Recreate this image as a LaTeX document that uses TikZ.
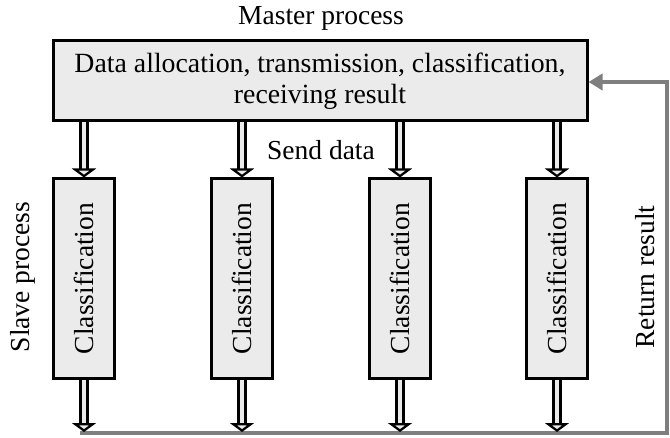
\documentclass[tikz,border=0pt]{standalone}
\usepackage{fontspec}
\setmainfont{Liberation Serif}
\usetikzlibrary{arrows.meta}
\definecolor{boxfill}{HTML}{EBEBEB}
\definecolor{retgray}{HTML}{7F7F7F}
\begin{document}
\begin{tikzpicture}[x=1pt,y=1pt,
  txt/.style={font=\fontsize{27.5}{31}\selectfont, inner sep=0pt},
  masterbox/.style={draw=black, line width=3pt, fill=boxfill, minimum width=534pt, minimum height=80pt, align=center, inner sep=0pt, font=\fontsize{27.8}{31}\selectfont},
  slavebox/.style={draw=black, line width=3pt, fill=boxfill, rotate=90, minimum width=199pt, minimum height=61pt, inner sep=0pt, font=\fontsize{27.5}{31}\selectfont},
  dbl/.style={draw=black, line width=3pt, double=boxfill, double distance=3.5pt, -{Triangle[open, fill=boxfill, line width=2.5pt, length=9pt, width=24pt]}},
  ret/.style={draw=retgray, line width=4pt, -{Triangle[length=14pt,width=16pt]}}]
\useasboundingbox (0,0) rectangle (670,437);
\node[txt] (mlabel) at (321,419) {Master process};
\node[masterbox] (m) at (320,356) {Data allocation, transmission, classification,\\receiving result};
\node[txt] (send) at (321,287) {Send data};
\node[txt, rotate=90] (slave) at (23,160) {Slave process};
\node[txt, rotate=90] (retl) at (645,160) {Return result};
\foreach \i/\x in {1/84,2/242,3/400,4/557}{
  \node[slavebox] (s\i) at (\x,158.5) {Classification};
  \coordinate (g\i) at (\x,5);
}
\coordinate (gl) at (80,4);
\coordinate (gr) at (667,4);
\coordinate (gt) at (667,355);
\draw[ret] (gl) -- (gr) -- (gt) -- (m.east |- gt);
\foreach \i in {1,...,4}{
  \draw[dbl] (m.south -| s\i) -- (s\i.east);
  \draw[dbl] (s\i.west) -- (g\i);
}
\end{tikzpicture}
\end{document}
